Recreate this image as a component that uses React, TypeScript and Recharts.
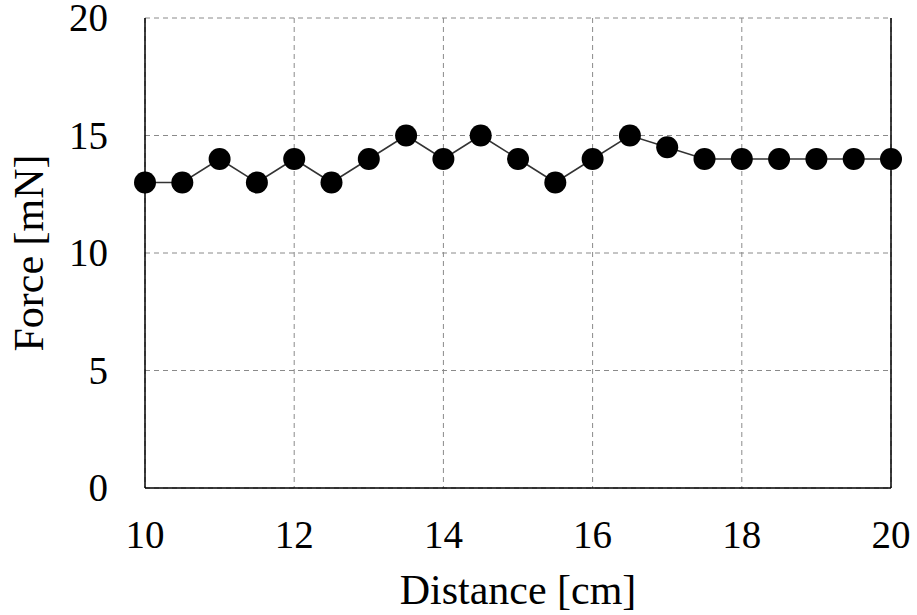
import {CartesianGrid, Label, Line, LineChart, ReferenceLine, XAxis, YAxis} from 'recharts'

// distance in cm, force in mN
const distance = [10, 10.5, 11, 11.5, 12, 12.5, 13, 13.5, 14, 14.5, 15, 15.5, 16, 16.5, 17, 17.5, 18, 18.5, 19, 19.5, 20]
const force = [13, 13, 14, 13, 14, 13, 14, 15, 14, 15, 14, 13, 14, 15, 14.5, 14, 14, 14, 14, 14, 14]

const xTicks = [10, 12, 14, 16, 18, 20]
const yTicks = [0, 5, 10, 15, 20]

const data = distance.map((d, i) => ({distance: d, force: force[i]}))

const textStyle = {fontFamily: 'Liberation Serif, DejaVu Serif, serif', fill: '#000'}

const XTick = (props: any) => (
    <text x={props.x} y={props.y + 60} textAnchor="middle" fontSize={39} style={textStyle}>
        {props.payload.value}
    </text>
)

const YTick = (props: any) => (
    <text x={props.x - 37} y={props.y + 13} textAnchor="end" fontSize={39} style={textStyle}>
        {props.payload.value}
    </text>
)

const XTitle = (props: any) => {
    const {x, width} = props.viewBox
    return (
        <text x={x + width / 2} y={604} textAnchor="middle" fontSize={42} style={textStyle}>
            Distance [cm]
        </text>
    )
}

const YTitle = (props: any) => {
    const {y, height} = props.viewBox
    const cy = y + height / 2
    return (
        <text x={43} y={cy} transform={`rotate(-90 43 ${cy})`} textAnchor="middle" fontSize={42} style={textStyle}>
            Force [mN]
        </text>
    )
}

const App = () => {
    return (
        <div style={{position: 'absolute', left: 0, top: 0, background: '#fff'}}>
            <LineChart
                width={917}
                height={615}
                data={data}
                margin={{top: 18, right: 26, left: 0, bottom: 0}}
            >
                <CartesianGrid strokeDasharray="5 4" stroke="#8a8a8a" />
                <XAxis
                    dataKey="distance"
                    type="number"
                    domain={[10, 20]}
                    ticks={xTicks}
                    height={127}
                    tickLine={false}
                    tickSize={0}
                    tickMargin={0}
                    tick={<XTick />}
                    axisLine={{stroke: '#000', strokeWidth: 1.5}}
                >
                    <Label content={<XTitle />} />
                </XAxis>
                <YAxis
                    type="number"
                    domain={[0, 20]}
                    ticks={yTicks}
                    width={145}
                    tickLine={false}
                    tickSize={0}
                    tickMargin={0}
                    tick={<YTick />}
                    axisLine={{stroke: '#000', strokeWidth: 1.5}}
                >
                    <Label content={<YTitle />} />
                </YAxis>
                <ReferenceLine x={20} stroke="#000" strokeWidth={1.5} />
                <Line
                    type="linear"
                    dataKey="force"
                    stroke="#333"
                    strokeWidth={1.5}
                    dot={{r: 11, fill: '#000', stroke: '#000', strokeWidth: 0}}
                    isAnimationActive={false}
                />
            </LineChart>
        </div>
    )
}

export default App
